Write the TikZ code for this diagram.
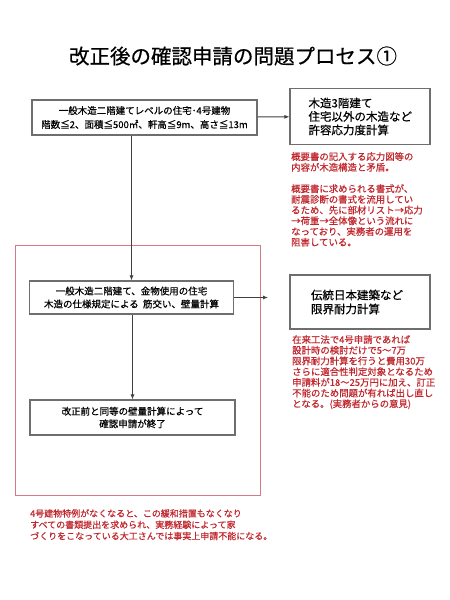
\documentclass[tikz,border=0pt]{standalone}
\usepackage{fontspec}
\setmainfont{Noto Sans CJK JP}[FakeBold=0.5]
\usetikzlibrary{arrows.meta}
\usetikzlibrary{positioning}
\definecolor{noteRed}{HTML}{C0272D}
\definecolor{frameRed}{HTML}{D27A85}
\definecolor{boxGray}{HTML}{6E6E6E}

\begin{document}
\begin{tikzpicture}[x=1pt,y=-1pt]
	\tikzset{box/.style = {shape=rectangle,draw=boxGray,line width=1.1pt,
			fill=white,inner sep=0pt,align=center}}
	\tikzset{boxLeft/.style = {box,align=left,inner ysep=0pt}}
	\tikzset{edge/.style = {-{Latex[length=5pt,width=4pt]},draw=black!75,line width=1pt}}
	\tikzset{note/.style = {text=noteRed,anchor=north west,align=left,inner sep=0pt,
			font=\fontsize{9.4}{10.7}\selectfont}}
	\useasboundingbox (0,0) rectangle (450,600);

	% title
	\node (title) at (233,56) {\fontsize{20.5}{24}\selectfont 改正後の確認申請の問題プロセス①};

	% frame
	\draw[frameRed,line width=1pt] (15,245) rectangle (260,495);

	% boxes
	\node[box,minimum width=225,minimum height=35,font=\fontsize{9.5}{14}\selectfont]
		(kind4) at (144.5,117.5) {一般木造二階建てレベルの住宅･4号建物\\階数≦2、面積≦500㎡、軒高≦9m、高さ≦13m};
	\node[boxLeft,minimum height=56,text width=103,inner xsep=18.5,font=\fontsize{11.5}{13.5}\selectfont]
		(allow) at (360,116.5) {木造3階建て\\住宅以外の木造など\\許容応力度計算};
	\node[box,minimum width=204,minimum height=33,font=\fontsize{9.5}{13}\selectfont]
		(wall) at (131.5,297.5) {一般木造二階建て、金物使用の住宅\\木造の仕様規定による\ \ 筋交い、壁量計算};
	\node[boxLeft,minimum height=54,text width=98,inner xsep=21,font=\fontsize{11.5}{14}\selectfont]
		(limit) at (360,302) {伝統日本建築など\\限界耐力計算};
	\node[box,minimum width=205,minimum height=35,font=\fontsize{9.5}{12.5}\selectfont]
		(done) at (132.5,417.5) {改正前と同等の壁量計算によって\\確認申請が終了};
	\coordinate (limitIn) at (268,297.5);

	% notes
	\node[note] (noteAllow) at (291,152) {概要書の記入する応力図等の\\内容が木造構造と矛盾。\\[10.7pt]
		概要書に求められる書式が、\\耐震診断の書式を流用してい\\るため、先に部材リスト→応力\\→荷重→全体像という流れに\\なっており、実務者の運用を\\阻害している。};
	\node[note] (noteLimit) at (292,335) {在来工法で4号申請であれば\\設計時の検討だけで5～7万\\限界耐力計算を行うと費用30万\\さらに適合性判定対象となるため\\申請料が18～25万円に加え、訂正\\不能のため問題が有れば出し直し\\となる。(実務者からの意見)};
	\node[note,font=\fontsize{9}{11.3}\selectfont] (noteEnd) at (30,509) {4号建物特例がなくなると、この緩和措置もなくなり\\すべての書類提出を求められ、実務経験によって家\\づくりをこなっている大工さんでは事実上申請不能になる。};

	%edges
	\draw[edge] (kind4) to (allow);
	\draw[edge] (kind4.south -| wall.north) to (wall.north);
	\draw[edge] (wall) to (limitIn);
	\draw[edge] (wall.south -| done.north) to (done.north);
\end{tikzpicture}
\end{document}
